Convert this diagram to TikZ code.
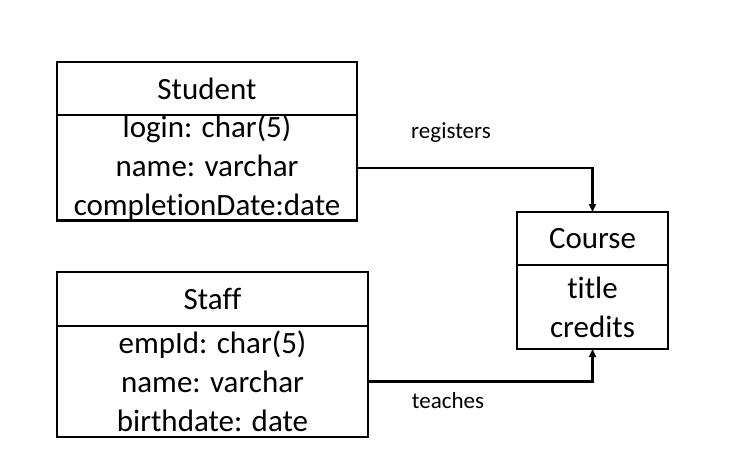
\documentclass[tikz,border=0pt]{standalone}
\usepackage{fontspec}
\setmainfont{Carlito}[Ligatures={NoCommon}]
\usetikzlibrary{arrows.meta, positioning}

\begin{document}
\begin{tikzpicture}[x=1pt, y=-1pt,
  classhead/.style={draw, line width=2.6pt, inner sep=0pt, outer sep=0pt, font=\fontsize{31}{39}\selectfont},
  classbody/.style={draw, line width=2.6pt, inner sep=0pt, outer sep=0pt, align=center, font=\fontsize{31}{39}\selectfont},
  assoc/.style={line width=2.2pt, -{Triangle[length=8pt, width=7pt]}},
  assoclabel/.style={font=\fontsize{23}{28}\selectfont}]
  \useasboundingbox (0,0) rectangle (741,457);

  % Student class
  \node[classhead, minimum width=300, minimum height=53, anchor=north] (studentHead) at (207,62) {Student};
  \node[classbody, minimum width=300, minimum height=105, below=0pt of studentHead] (studentBody)
    {login: char(5)\\name: varchar\\completionDate:date};

  % Staff class
  \node[classhead, minimum width=311, minimum height=54, anchor=north] (staffHead) at (212.5,272) {Staff};
  \node[classbody, minimum width=311, minimum height=111, below=0pt of staffHead] (staffBody)
    {empId: char(5)\\name: varchar\\birthdate: date};

  % Course class
  \node[classhead, minimum width=151, minimum height=53, anchor=north] (courseHead) at (592.5,212) {Course};
  \node[classbody, minimum width=151, minimum height=84, below=0pt of courseHead] (courseBody)
    {title\\credits};

  % Associations
  \draw[assoc] (studentBody.east) -| (courseHead.north);
  \draw[assoc] (staffBody.east) -| (courseBody.south);
  \node[assoclabel] (regLabel) at (451,133) {registers};
  \node[assoclabel] (teachLabel) at (448,401) {teaches};
\end{tikzpicture}
\end{document}
